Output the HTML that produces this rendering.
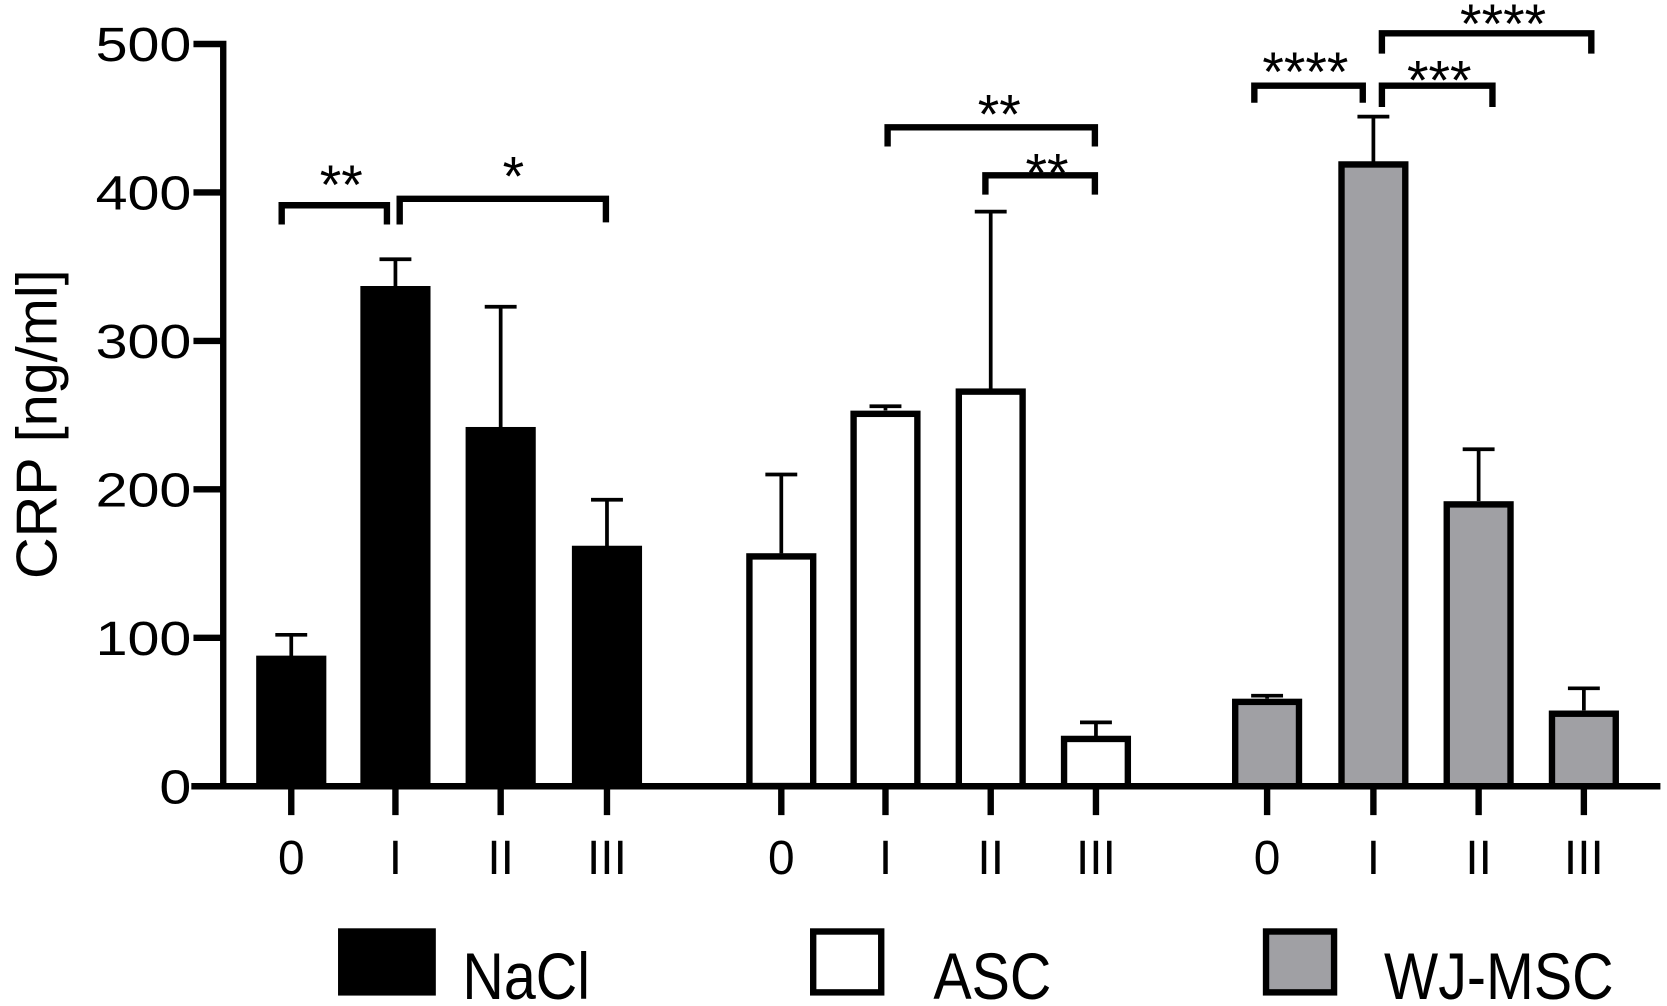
<!DOCTYPE html>
<html><head><meta charset="utf-8"><style>
html,body{margin:0;padding:0;background:#fff;}
svg{display:block;}
text{font-family:"Liberation Sans",Arial,sans-serif;fill:#000;}
</style></head><body>
<svg width="1667" height="1006" viewBox="0 0 1667 1006" xmlns="http://www.w3.org/2000/svg">
<g transform="translate(0,-3) scale(1.063,1.068)">
<g fill="#000">
<rect x="241" y="616.7" width="66" height="122.3"/>
<rect x="339" y="270.6" width="66" height="468.4"/>
<rect x="438" y="402.6" width="66" height="336.4"/>
<rect x="538" y="513.8" width="66" height="225.2"/>
</g>
<g fill="#fff" stroke="#000" stroke-width="6">
<rect x="705" y="523.8" width="60" height="215"/>
<rect x="803" y="390.3" width="60" height="348.7"/>
<rect x="902" y="369.5" width="60" height="369.5"/>
<rect x="1001" y="694.7" width="60" height="44.3"/>
</g>
<g fill="#a0a0a4" stroke="#000" stroke-width="6">
<rect x="1162" y="660" width="60" height="79"/>
<rect x="1262" y="156.8" width="60" height="582.2"/>
<rect x="1361" y="475.1" width="60" height="263.9"/>
<rect x="1460" y="671.1" width="60" height="67.9"/>
</g>
<g stroke="#000" stroke-width="3.5" fill="none">
<path d="M274 617V597.2M259 597.2H289"/>
<path d="M372 271V245.5M357 245.5H387"/>
<path d="M471 403V290M456 290H486"/>
<path d="M571 514V470.7M556 470.7H586"/>
<path d="M735 521V447.1M720 447.1H750"/>
<path d="M833 387V383.2M818 383.2H848"/>
<path d="M932 367V201M917 201H947"/>
<path d="M1031 692V679.2M1016 679.2H1046"/>
<path d="M1192 657V654.2M1177 654.2H1207"/>
<path d="M1292 154V112M1277 112H1307"/>
<path d="M1391 472V423.5M1376 423.5H1406"/>
<path d="M1490 668V647.3M1475 647.3H1505"/>
</g>
<g stroke="#000" stroke-width="6" fill="none">
<path d="M210 42V742M182 44H213M182 183H213M182 322H213M182 461H213M182 600H213M182 739H213"/>
<path d="M180 739H1562"/>
<path d="M274 739V766M372 739V766M471 739V766M571 739V766M735 739V766M833 739V766M932 739V766M1031 739V766M1192 739V766M1292 739V766M1391 739V766M1490 739V766"/>
</g>
<g font-size="45" text-anchor="end">
<text transform="translate(180,60) scale(1.2,1)">500</text>
<text transform="translate(180,199) scale(1.2,1)">400</text>
<text transform="translate(180,338) scale(1.2,1)">300</text>
<text transform="translate(180,477) scale(1.2,1)">200</text>
<text transform="translate(180,616) scale(1.2,1)">100</text>
<text transform="translate(180,755) scale(1.2,1)">0</text>
</g>
<text transform="translate(53,400) rotate(-90)" font-size="54" text-anchor="middle">CRP [ng/ml]</text>
<g font-size="45" text-anchor="middle">
<text x="274" y="821">0</text><text x="372" y="821">I</text><text x="471" y="821">II</text><text x="571" y="821">III</text>
<text x="735" y="821">0</text><text x="833" y="821">I</text><text x="932" y="821">II</text><text x="1031" y="821">III</text>
<text x="1192" y="821">0</text><text x="1292" y="821">I</text><text x="1391" y="821">II</text><text x="1490" y="821">III</text>
</g>
<g stroke="#000" stroke-width="6" fill="none">
<path d="M265 213V195H364V213"/>
<path d="M376 213V189H570V211"/>
<path d="M835 140V122H1030V140"/>
<path d="M927 185V167H1030V185"/>
<path d="M1180 99V83H1282V99"/>
<path d="M1300 103V83H1404V103"/>
<path d="M1300 53V34H1497V53"/>
</g>
<g font-size="52" text-anchor="middle">
<text x="321" y="194">**</text>
<text x="483" y="186">*</text>
<text x="940" y="128">**</text>
<text x="985" y="183">**</text>
<text x="1228" y="88">****</text>
<text x="1354" y="96">***</text>
<text x="1414" y="43">****</text>
</g>
<rect x="318" y="872" width="92" height="63" fill="#000"/>
<rect x="765" y="875" width="64" height="57" fill="#fff" stroke="#000" stroke-width="6"/>
<rect x="1191" y="875" width="64" height="57" fill="#a0a0a4" stroke="#000" stroke-width="6"/>
<g font-size="54">
<text transform="translate(435,938) scale(1,1.15)">NaCl</text>
<text transform="translate(878,938) scale(1,1.15)">ASC</text>
<text transform="translate(1302,938) scale(1,1.15)">WJ-MSC</text>
</g>
</g>
</svg>
</body></html>
